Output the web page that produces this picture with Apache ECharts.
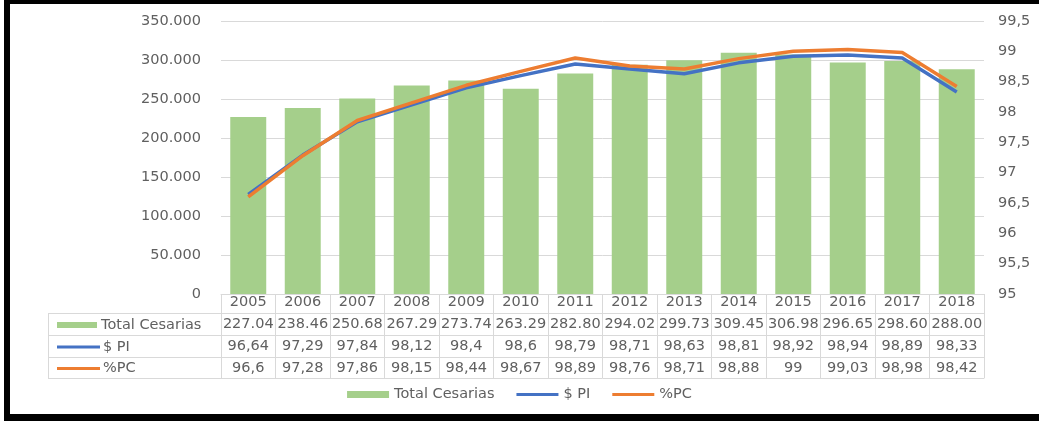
<!DOCTYPE html>
<html><head><meta charset="utf-8">
<script src="https://cdn.jsdelivr.net/npm/echarts@6/dist/echarts.min.js"></script>
<style>
html,body{margin:0;padding:0;background:#fff;}
#c{width:1039px;height:421px;position:absolute;left:0;top:0;}
#frame{position:absolute;left:4px;top:0;width:1035px;height:410px;border-left:6px solid #000;border-top:4px solid #000;border-bottom:7px solid #000;box-sizing:content-box;pointer-events:none;}
</style></head>
<body>
<div id="c"></div><div id="frame"></div>
<script>
const years = ['2005','2006','2007','2008','2009','2010','2011','2012','2013','2014','2015','2016','2017','2018'];
const totalCesarias = [227040, 238460, 250680, 267290, 273740, 263290, 282800, 294020, 299730, 309450, 306980, 296650, 298600, 288000];
const spi = [96.64, 97.29, 97.84, 98.12, 98.4, 98.6, 98.79, 98.71, 98.63, 98.81, 98.92, 98.94, 98.89, 98.33];
const pc = [96.6, 97.28, 97.86, 98.15, 98.44, 98.67, 98.89, 98.76, 98.71, 98.88, 99, 99.03, 98.98, 98.42];
const seriesNames = ['Total Cesarias', '$ PI', '%PC'];
const leftTicks = {min: 0, max: 350000, interval: 50000};
const rightTicks = {min: 95, max: 99.5, interval: 0.5};

const FONT = 'DejaVu Sans';
const FS = 14.5;
const TXT = '#606060';
const LINE = '#d9d9d9';
const GREEN = '#a5cf8b', BLUE = '#4472c4', ORANGE = '#ed7d31';
const G = {left: 221, right: 55, top: 21, bottom: 127};
const axisBottomY = 421 - G.bottom; // 294
const rowOff = [19, 41, 63, 84];
const tableLeft = 48;

const fmtTot = v => (v/1000).toFixed(2);
const fmtPct = v => String(v).replace('.', ',');
const rowVals = [totalCesarias.map(fmtTot), spi.map(fmtPct), pc.map(fmtPct)];

const lblBase = {fontFamily: FONT, fontSize: FS, color: TXT};

const xAxes = [{
  type: 'category', data: years, gridIndex: 0, position: 'bottom',
  axisLine: {show: true, lineStyle: {color: LINE, width: 1}},
  axisTick: {show: true, length: rowOff[3], lineStyle: {color: LINE}},
  axisLabel: Object.assign({margin: 1, interval: 0}, lblBase)
}];
rowOff.forEach((off, k) => {
  xAxes.push({
    type: 'category', data: years, gridIndex: 0, position: 'bottom', offset: off,
    axisLine: {show: true, lineStyle: {color: LINE, width: 1}},
    axisTick: {show: false},
    axisLabel: k < 3 ? Object.assign({margin: 4, interval: 0, formatter: (v, i) => rowVals[k][i]}, lblBase) : {show: false}
  });
});

const graphics = [];
rowOff.forEach(off => {
  graphics.push({type: 'line', shape: {x1: tableLeft, y1: axisBottomY + off + 0.5, x2: G.left, y2: axisBottomY + off + 0.5}, style: {stroke: LINE, lineWidth: 1}, silent: true});
});
graphics.push({type: 'line', shape: {x1: tableLeft + 0.5, y1: axisBottomY + rowOff[0], x2: tableLeft + 0.5, y2: axisBottomY + rowOff[3]}, style: {stroke: LINE, lineWidth: 1}, silent: true});
const keyColors = [GREEN, BLUE, ORANGE];
for (let k = 0; k < 3; k++) {
  const cy = axisBottomY + (rowOff[k] + rowOff[k+1]) / 2 + 1;
  if (k === 0) {
    graphics.push({type: 'rect', shape: {x: 57, y: cy - 3, width: 40, height: 6}, style: {fill: GREEN}, silent: true});
  } else {
    graphics.push({type: 'line', shape: {x1: 57, y1: cy, x2: 100, y2: cy}, style: {stroke: keyColors[k], lineWidth: 3}, silent: true});
  }
  graphics.push({type: 'text', x: k === 0 ? 101 : 103, y: cy, style: {text: seriesNames[k], fontFamily: FONT, fontSize: FS, fill: TXT, verticalAlign: 'middle', align: 'left'}, silent: true});
}

const lineIcon = 'path://M0,0 L0.01,0 L0,0.01 Z M0,2 L42,2 L42,5 L0,5 Z M41.99,7 L42,7 L42,6.99 Z';

const chart = echarts.init(document.getElementById('c'), null, {renderer: 'canvas'});
chart.setOption({
  animation: false,
  backgroundColor: '#fff',
  grid: {left: G.left, right: G.right, top: G.top, bottom: G.bottom, containLabel: false},
  legend: {
    bottom: 14, left: 'center', itemGap: 22, itemWidth: 42, itemHeight: 7,
    textStyle: {fontFamily: FONT, fontSize: FS, color: TXT},
    data: [{name: seriesNames[0], icon: 'rect'}, {name: seriesNames[1], icon: lineIcon}, {name: seriesNames[2], icon: lineIcon}]
  },
  xAxis: xAxes,
  yAxis: [{
    type: 'value', min: leftTicks.min, max: leftTicks.max, interval: leftTicks.interval,
    axisLine: {show: false}, axisTick: {show: false},
    splitLine: {lineStyle: {color: LINE}},
    axisLabel: Object.assign({margin: 20, formatter: v => v === 0 ? '0' : (v/1000).toFixed(3)}, lblBase)
  }, {
    type: 'value', min: rightTicks.min, max: rightTicks.max, interval: rightTicks.interval, position: 'right',
    axisLine: {show: false}, axisTick: {show: false}, splitLine: {show: false},
    axisLabel: Object.assign({margin: 14, formatter: v => String(Math.round(v*10)/10).replace('.', ',')}, lblBase)
  }],
  series: [{
    name: seriesNames[0], type: 'bar', data: totalCesarias, xAxisIndex: 0, yAxisIndex: 0,
    barCategoryGap: '34%', itemStyle: {color: GREEN}
  }, {
    name: seriesNames[1], type: 'line', data: spi, xAxisIndex: 0, yAxisIndex: 1,
    symbol: 'none', lineStyle: {color: BLUE, width: 3.5}, itemStyle: {color: BLUE}
  }, {
    name: seriesNames[2], type: 'line', data: pc, xAxisIndex: 0, yAxisIndex: 1,
    symbol: 'none', lineStyle: {color: ORANGE, width: 3.5}, itemStyle: {color: ORANGE}
  }],
  graphic: graphics
});
</script>
</body></html>
